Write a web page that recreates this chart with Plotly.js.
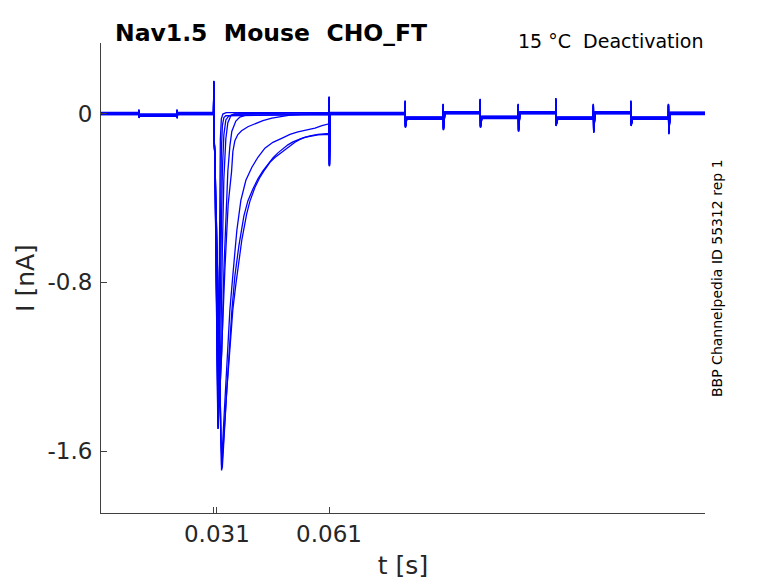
<!DOCTYPE html>
<html>
<head>
<meta charset="utf-8">
<script src="https://cdn.plot.ly/plotly-3.0.1.min.js"></script>
<style>body{margin:0;background:#fff}</style>
</head>
<body>
<div id="plot" style="width:778px;height:583px"></div>
<script>
// baseline before the test step (two small protocol steps, then capacitive spike at 0.031 s)
var preT = [0, 0.0101, 0.01013, 0.01018, 0.0103, 0.0203, 0.02033, 0.02038, 0.0205, 0.0301, 0.03019, 0.03032];
var preI = [0, 0, 0.014, -0.016, -0.008, -0.008, 0.014, -0.018, 0, 0, 0.150, -0.140];

// tail currents, one pair of arrays per sweep (t in s, I in nA)
var sweep1T = [0.03046, 0.03134, 0.03153, 0.03172, 0.03193, 0.03220, 0.03260, 0.0335, 0.0609];
var sweep1I = [-0.20, -1.49, -0.884, -0.410, -0.125, -0.030, -0.007, 0.0, 0.0];

var sweep2T = [0.03046, 0.03134, 0.03166, 0.03193, 0.03220, 0.03247, 0.03287, 0.03340, 0.0609];
var sweep2I = [-0.20, -1.48, -0.979, -0.505, -0.173, -0.054, -0.016, -0.007, 0.0];

var sweep3T = [0.03046, 0.03126, 0.03180, 0.03220, 0.03247, 0.03287, 0.03340, 0.03421, 0.0355, 0.0609];
var sweep3I = [-0.20, -1.453, -1.026, -0.552, -0.268, -0.101, -0.030, -0.011, -0.003, 0.0];

var sweep4T = [0.03046, 0.03140, 0.03207, 0.03247, 0.03287, 0.03340, 0.03394, 0.03474, 0.03582, 0.0609];
var sweep4I = [-0.20, -1.50, -1.074, -0.647, -0.315, -0.125, -0.049, -0.016, -0.007, 0.0];

var sweep5T = [0.03046, 0.03126, 0.03233, 0.03287, 0.03340, 0.03394, 0.03448, 0.03501, 0.03608, 0.03716, 0.03876, 0.0609];
var sweep5I = [-0.20, -1.49, -1.121, -0.742, -0.457, -0.268, -0.149, -0.078, -0.030, -0.011, -0.002, 0.0];

var sweep6T = [0.03046, 0.03166, 0.03233, 0.03314, 0.03402, 0.03493, 0.03528, 0.03582, 0.03662, 0.03761,
               0.03930, 0.04117, 0.04332, 0.04572, 0.04787, 0.05055, 0.05457, 0.0609];
var sweep6I = [-0.20, -1.395, -1.074, -0.742, -0.433, -0.277, -0.182, -0.130, -0.101, -0.083,
               -0.064, -0.049, -0.035, -0.023, -0.016, -0.009, -0.004, 0.0];

var sweep7T = [0.03046, 0.03153, 0.03225, 0.03287, 0.03367, 0.03448, 0.03528, 0.03635, 0.03742, 0.03876,
               0.04037, 0.04198, 0.04385, 0.04599, 0.04833, 0.05055, 0.05269, 0.05484, 0.05725, 0.05912, 0.06100];
var sweep7I = [-0.20, -1.026, -1.667, -1.453, -1.168, -0.931, -0.765, -0.552, -0.410, -0.315,
               -0.253, -0.206, -0.163, -0.135, -0.116, -0.097, -0.086, -0.078, -0.068, -0.056, -0.047];

var sweep8T = [0.03046, 0.03166, 0.03207, 0.03225, 0.03247, 0.03287, 0.03367, 0.03448, 0.03528, 0.03608,
               0.03662, 0.03769, 0.03895, 0.03983, 0.04117, 0.04251, 0.04385, 0.04519, 0.04653, 0.04787,
               0.04921, 0.05055, 0.05189, 0.05323, 0.05457, 0.05591, 0.05805, 0.06100];
var sweep8I = [-0.20, -1.121, -1.620, -1.695, -1.680, -1.548, -1.310, -1.121, -0.931, -0.813,
               -0.742, -0.600, -0.481, -0.419, -0.353, -0.305, -0.268, -0.234, -0.211, -0.192,
               -0.173, -0.154, -0.139, -0.125, -0.116, -0.111, -0.104, -0.101];

var sweep9T = [0.03046, 0.03180, 0.03207, 0.03241, 0.03287, 0.03367, 0.03448, 0.03501, 0.03582, 0.03689,
               0.03823, 0.03930, 0.04064, 0.04198, 0.04332, 0.04466, 0.04600, 0.04734, 0.04867, 0.05001,
               0.05135, 0.05269, 0.05403, 0.05591, 0.05805, 0.06100];
var sweep9I = [-0.20, -1.20, -1.548, -1.652, -1.524, -1.287, -1.074, -0.931, -0.765, -0.623,
               -0.481, -0.410, -0.353, -0.305, -0.268, -0.234, -0.206, -0.182, -0.163, -0.144,
               -0.130, -0.120, -0.111, -0.101, -0.094, -0.090];

// spike at the end of the test step
var endT = [0.06103, 0.06112];
var endI = [0.075, -0.245];

// after the test step: alternating small steps every ~10 ms
var postT = [0.0613, 0.08134, 0.08137, 0.08145, 0.0818,
             0.09151, 0.09154, 0.09162, 0.0920,
             0.10142, 0.10145, 0.10153, 0.1019,
             0.1116, 0.11163, 0.11171, 0.1121,
             0.12165, 0.12168, 0.12176, 0.1222,
             0.1317, 0.13173, 0.13181, 0.1322,
             0.14174, 0.14177, 0.14185, 0.1422,
             0.15179, 0.15182, 0.1519, 0.1523, 0.1616];
var postI = [0, 0, 0.056, -0.062, -0.022,
             -0.022, 0.041, -0.074, 0.004,
             0.004, 0.064, -0.062, -0.018,
             -0.018, 0.041, -0.081, 0.004,
             0.004, 0.068, -0.054, -0.022,
             -0.022, 0.041, -0.086, 0.004,
             0.004, 0.056, -0.054, -0.022,
             -0.022, 0.041, -0.093, 0.001, 0.001];

// small baseline offset of each sweep (spread of the noisy baseline band)
var baseShift = [0.005, -0.003, 0.0, 0.006, -0.005, 0.002, -0.001, 0.003, -0.004];

var xTickVals = [0.0300, 0.031, 0.061];
var xTickText = ['', '0.031', '0.061'];
var yTickVals = [0, -0.8, -1.6];
var yTickText = ['0', '-0.8', '-1.6'];

var sweepT = [sweep1T, sweep2T, sweep3T, sweep4T, sweep5T, sweep6T, sweep7T, sweep8T, sweep9T];
var sweepI = [sweep1I, sweep2I, sweep3I, sweep4I, sweep5I, sweep6I, sweep7I, sweep8I, sweep9I];

var traces = sweepT.map(function (tail, k) {
    return {
        type: 'scatter',
        mode: 'lines',
        x: preT.concat(tail, endT, postT),
        y: preI.concat(sweepI[k], endI, postI).map(function (v) { return v + baseShift[k]; }),
        line: { color: '#0000ff', width: 1.3 },
        hoverinfo: 'skip'
    };
});

var axisColor = '#404040';

var layout = {
    width: 778,
    height: 583,
    margin: { l: 101, r: 73, t: 43, b: 70, pad: 0 },
    paper_bgcolor: '#ffffff',
    plot_bgcolor: '#ffffff',
    showlegend: false,
    font: { family: 'DejaVu Sans', color: '#262626' },
    title: {
        text: '<b>Nav1.5\u00a0\u00a0Mouse\u00a0\u00a0CHO_FT</b>',
        font: { size: 23.5, color: '#000000' },
        xref: 'container', x: 115 / 778, xanchor: 'left',
        yref: 'container', y: 1 - 33 / 583, yanchor: 'middle'
    },
    xaxis: {
        range: [0, 0.1616],
        showline: true, linecolor: axisColor, linewidth: 1, mirror: false,
        showgrid: false, zeroline: false,
        ticks: 'inside', ticklen: 6, tickcolor: axisColor,
        tickvals: xTickVals, ticktext: xTickText,
        tickfont: { size: 23 },
        title: { text: 't [s]', font: { size: 25 }, standoff: 10 }
    },
    yaxis: {
        range: [-1.894, 0.335],
        showline: true, linecolor: axisColor, linewidth: 1, mirror: false,
        showgrid: false, zeroline: false,
        ticks: 'inside', ticklen: 6, tickcolor: axisColor,
        tickvals: yTickVals, ticktext: yTickText,
        tickfont: { size: 23 },
        ticklabelstandoff: 3,
        title: { text: 'I [nA]', font: { size: 25 }, standoff: 5 }
    },
    annotations: [
        {
            text: '15 °C\u00a0\u00a0Deactivation',
            xref: 'paper', yref: 'paper', x: 1, y: 1,
            xanchor: 'right', yanchor: 'middle', yshift: 2,
            showarrow: false, font: { size: 19, color: '#000000' }
        },
        {
            text: 'BBP Channelpedia ID 55312 rep 1',
            xref: 'paper', yref: 'paper', x: 1, y: (513 - 278) / 470,
            xanchor: 'center', yanchor: 'middle', xshift: 12,
            textangle: -90,
            showarrow: false, font: { size: 14, color: '#000000' }
        }
    ]
};

Plotly.newPlot('plot', traces, layout, { displayModeBar: false, staticPlot: true });
</script>
</body>
</html>
